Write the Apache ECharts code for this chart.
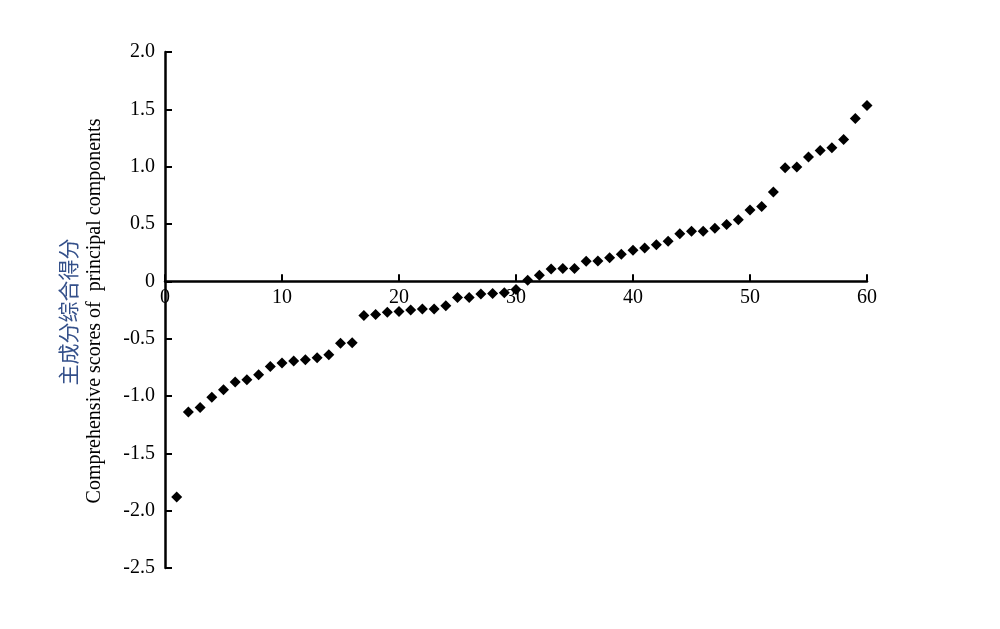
<!DOCTYPE html>
<html>
<head>
<meta charset="utf-8">
<script src="https://cdn.jsdelivr.net/npm/echarts@6/dist/echarts.min.js"></script>
<style>
html,body{margin:0;padding:0;background:#fff;}
#chart{width:1000px;height:629px;}
</style>
</head>
<body>
<div id="chart"></div>
<script>
// Sample rank (x) and comprehensive score (y)
const ranks = [1,2,3,4,5,6,7,8,9,10,11,12,13,14,15,16,17,18,19,20,
  21,22,23,24,25,26,27,28,29,30,31,32,33,34,35,36,37,38,39,40,
  41,42,43,44,45,46,47,48,49,50,51,52,53,54,55,56,57,58,59,60];
const scores = [-1.88,-1.14,-1.10,-1.01,-0.945,-0.878,-0.858,-0.814,-0.742,-0.712,
  -0.695,-0.683,-0.666,-0.64,-0.541,-0.535,-0.297,-0.29,-0.27,-0.262,
  -0.25,-0.241,-0.241,-0.212,-0.142,-0.142,-0.11,-0.107,-0.10,-0.072,
  0.01,0.052,0.108,0.113,0.113,0.175,0.178,0.205,0.236,0.27,
  0.29,0.32,0.349,0.414,0.437,0.437,0.462,0.495,0.538,0.623,
  0.652,0.78,0.99,0.998,1.085,1.14,1.164,1.236,1.42,1.533];
const xTicks = [0,10,20,30,40,50,60];
const yTicks = [-2.5,-2.0,-1.5,-1.0,-0.5,0,0.5,1.0,1.5,2.0];
const nameCn = '主成分综合得分';
const nameEn = 'Comprehensive scores of  principal components';

const points = ranks.map((r, i) => [r, scores[i]]);
const serif = '"Liberation Serif","DejaVu Serif",serif';

const gridTop = 52, gridBottom = 61, H = 629;
const yMin = yTicks[0], yMax = yTicks[yTicks.length - 1];
const plotH = H - gridTop - gridBottom;
// place the x axis (line, ticks and labels) on y = 0
const xOffset = -plotH * (0 - yMin) / (yMax - yMin);

const chart = echarts.init(document.getElementById('chart'));
chart.setOption({
  animation: false,
  backgroundColor: '#fff',
  grid: {left: 165, right: 133, top: gridTop, bottom: gridBottom, containLabel: false},
  xAxis: {
    type: 'value',
    position: 'bottom',
    offset: xOffset,
    min: xTicks[0], max: xTicks[xTicks.length - 1], interval: 10,
    axisLine: {onZero: false, lineStyle: {color: '#000', width: 2.5}},
    axisTick: {inside: true, length: 7, lineStyle: {color: '#000', width: 2}},
    axisLabel: {color: '#000', fontFamily: serif, fontSize: 20, margin: 6},
    splitLine: {show: false}
  },
  yAxis: {
    type: 'value',
    min: yMin, max: yMax, interval: 0.5,
    axisLine: {onZero: false, lineStyle: {color: '#000', width: 2.5}},
    axisTick: {inside: true, length: 7, lineStyle: {color: '#000', width: 2}},
    axisLabel: {
      color: '#000', fontFamily: serif, fontSize: 20, margin: 10,
      formatter: v => (Math.abs(v) < 1e-9 ? '0' : v.toFixed(1))
    },
    splitLine: {show: false}
  },
  graphic: [
    {
      type: 'text', x: 68, y: 312, rotation: Math.PI / 2,
      style: {text: nameCn, fill: '#34508a', font: '21px "Noto Sans CJK SC"',
        textAlign: 'center', textVerticalAlign: 'middle'}
    },
    {
      type: 'text', x: 95, y: 311, rotation: Math.PI / 2,
      style: {text: nameEn, fill: '#000', font: '20px "Liberation Serif"',
        textAlign: 'center', textVerticalAlign: 'middle'}
    }
  ],
  series: [{
    type: 'scatter',
    data: points,
    symbol: 'diamond',
    symbolSize: 11,
    itemStyle: {color: '#000', opacity: 1}
  }]
});
</script>
</body>
</html>
